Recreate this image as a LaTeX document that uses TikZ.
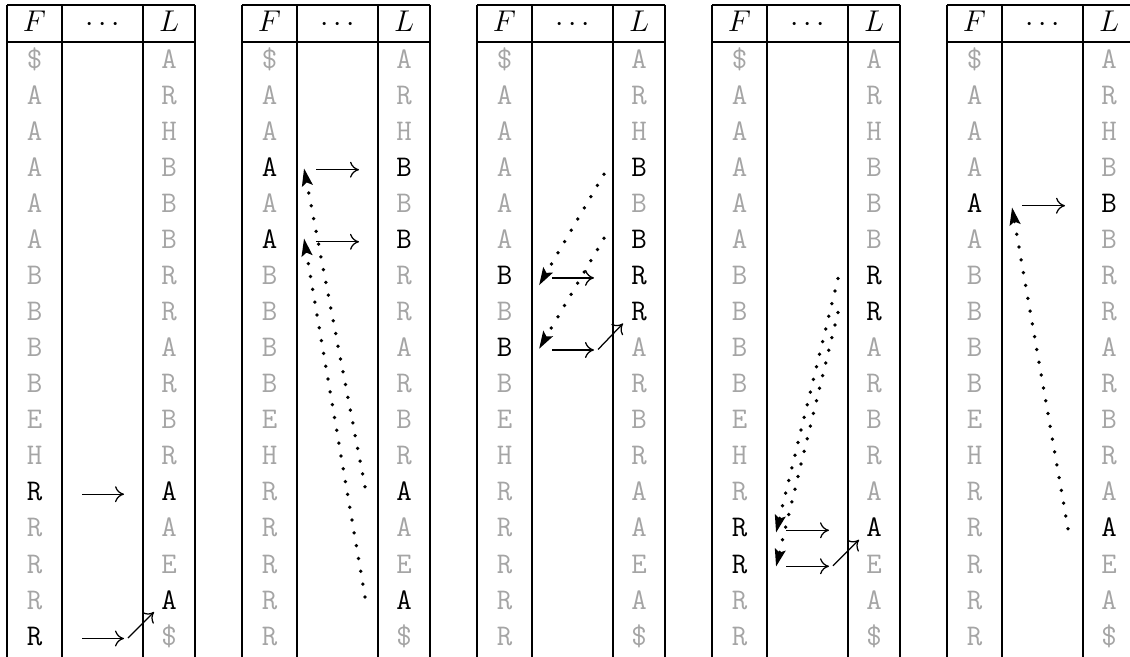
\documentclass[tikz,border=0pt]{standalone}
\usetikzlibrary{arrows.meta}
\definecolor{cellgray}{RGB}{165,165,165}
\newcommand\markblack[1]{\expandafter\def\csname hlcell#1\endcsname{}}
\markblack{1F12}\markblack{1F16}\markblack{1L12}\markblack{1L15}
\markblack{2F3}\markblack{2F5}\markblack{2L3}\markblack{2L5}\markblack{2L12}\markblack{2L15}
\markblack{3F6}\markblack{3F8}\markblack{3L3}\markblack{3L5}\markblack{3L6}\markblack{3L7}
\markblack{4F13}\markblack{4F14}\markblack{4L6}\markblack{4L7}\markblack{4L13}
\markblack{5F4}\markblack{5L4}\markblack{5L13}
\begin{document}
\begin{tikzpicture}[x=0.4pt,y=-0.4pt,
  cell/.style={font=\fontsize{12}{14}\selectfont\ttfamily, anchor=base, inner sep=0pt},
  hdr/.style={font=\fontsize{12}{14}\selectfont, anchor=base, inner sep=0pt},
  rule/.style={line width=0.45pt, black},
  solidarr/.style={line width=0.5pt, -{Computer Modern Rightarrow[length=3.6pt,width=6.4pt]}},
  dotarr/.style={line width=1.5pt, line cap=round, dash pattern=on 0pt off 5.2pt,
     -{Stealth[length=7pt,width=4.2pt,inset=1.2pt]}}]
\clip (0,0) rectangle (1130,657);
\foreach \tb/\x in {1/7,2/242,3/477,4/712,5/947} {
  \draw[rule] (\x,5) -- (\x+188,5) (\x,42) -- (\x+188,42);
  \draw[rule] (\x,5) -- (\x,660) (\x+55,5) -- (\x+55,660)
              (\x+136,5) -- (\x+136,660) (\x+188,5) -- (\x+188,660);
  \node[hdr] (t\tb hF) at (\x+27.5,32) {$F$};
  \node[hdr] (t\tb hD) at (\x+95.5,32) {$\cdots$};
  \node[hdr] (t\tb hL) at (\x+162,32) {$L$};
  \foreach \c [count=\i from 0] in {\$,A,A,A,A,A,B,B,B,B,E,H,R,R,R,R,R} {
    \ifcsname hlcell\tb F\i\endcsname \def\cc{black}\else \def\cc{cellgray}\fi
    \node[cell, text=\cc] (t\tb F\i) at (\x+27.5,{60+36.06*\i+8.2}) {\c};
  }
  \foreach \c [count=\i from 0] in {A,R,H,B,B,B,R,R,A,R,B,R,A,A,E,A,\$} {
    \ifcsname hlcell\tb L\i\endcsname \def\cc{black}\else \def\cc{cellgray}\fi
    \node[cell, text=\cc] (t\tb L\i) at (\x+162,{60+36.06*\i+8.2}) {\c};
  }
}
% ---------- table 1
\coordinate (p1a) at (82,494.2);  \coordinate (q1a) at (124,494.2);
\coordinate (p1b) at (82,638.5);  \coordinate (q1b) at (124,638.5);
\coordinate (r1b) at (128,638);   \coordinate (s1b) at (154,612);
\draw[solidarr] (p1a) -- (q1a);
\draw[solidarr] (p1b) -- (q1b);
\draw[solidarr] (r1b) -- (s1b);
% ---------- table 2
\coordinate (p2a) at (316,169.7); \coordinate (q2a) at (359,169.7);
\coordinate (p2b) at (316,241.8); \coordinate (q2b) at (359,241.8);
\draw[solidarr] (p2a) -- (q2a);
\draw[solidarr] (p2b) -- (q2b);
\coordinate (d2a) at (365,486.7); \coordinate (e2a) at (304,168.2);
\coordinate (d2b) at (365,596.9); \coordinate (e2b) at (304,238.3);
\draw[dotarr] (d2a) -- (e2a);
\draw[dotarr] (d2b) -- (e2b);
% ---------- table 3
\coordinate (p3a) at (552,277.9); \coordinate (q3a) at (594,277.9);
\coordinate (p3b) at (552,350);   \coordinate (q3b) at (594,350);
\coordinate (r3b) at (598,349.5); \coordinate (s3b) at (623,323.5);
\draw[solidarr] (p3a) -- (q3a);
\draw[solidarr] (p3b) -- (q3b);
\draw[solidarr] (r3b) -- (s3b);
\coordinate (d3a) at (604,174.2); \coordinate (e3a) at (539,285.4);
\coordinate (d3b) at (604,238.3); \coordinate (e3b) at (539,349);
\draw[dotarr] (d3a) -- (e3a);
\draw[dotarr] (d3b) -- (e3b);
% ---------- table 4
\coordinate (p4a) at (786,530.3); \coordinate (q4a) at (829,530.3);
\coordinate (p4b) at (786,566.3); \coordinate (q4b) at (829,566.3);
\coordinate (r4b) at (833,565.8); \coordinate (s4b) at (859,539.8);
\draw[solidarr] (p4a) -- (q4a);
\draw[solidarr] (p4b) -- (q4b);
\draw[solidarr] (r4b) -- (s4b);
\coordinate (d4a) at (838,278.4); \coordinate (e4a) at (776,532.8);
\coordinate (d4b) at (838,312.4); \coordinate (e4b) at (776,566.8);
\draw[dotarr] (d4a) -- (e4a);
\draw[dotarr] (d4b) -- (e4b);
% ---------- table 5
\coordinate (p5a) at (1022,205.7); \coordinate (q5a) at (1065,205.7);
\draw[solidarr] (p5a) -- (q5a);
\coordinate (d5a) at (1068,528.8); \coordinate (e5a) at (1012,207.2);
\draw[dotarr] (d5a) -- (e5a);
\end{tikzpicture}
\end{document}
